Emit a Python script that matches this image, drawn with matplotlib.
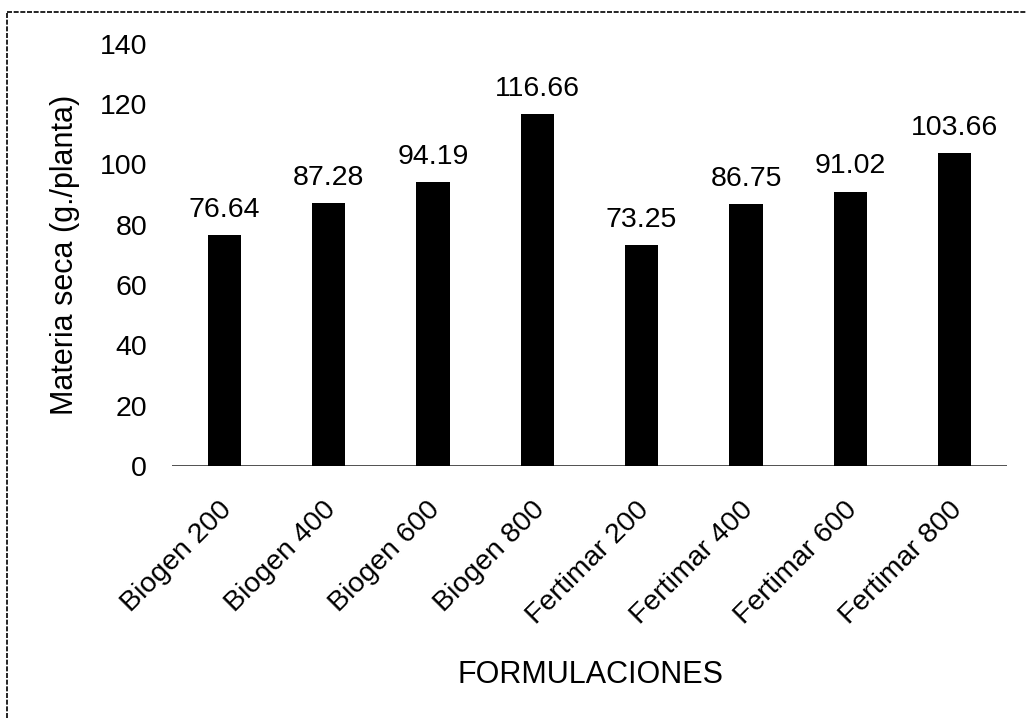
import matplotlib
matplotlib.use("Agg")
import matplotlib.pyplot as plt
from matplotlib.lines import Line2D
from matplotlib.transforms import ScaledTranslation

plt.rcParams['font.family'] = ['Liberation Sans', 'DejaVu Sans']

categories = ["Biogen 200", "Biogen 400", "Biogen 600", "Biogen 800",
              "Fertimar 200", "Fertimar 400", "Fertimar 600", "Fertimar 800"]
values = [76.64, 87.28, 94.19, 116.66, 73.25, 86.75, 91.02, 103.66]
yticks = [0, 20, 40, 60, 80, 100, 120, 140]

fig = plt.figure(figsize=(10.27, 7.18), dpi=100)
ax = fig.add_axes([0.1675, 0.351, 0.813, 0.588])

x = range(len(categories))
ax.axhline(0, color="#333333", lw=1.2, zorder=1)
bars = ax.bar(x, values, width=0.32, color="black", zorder=2)
for xi, v in zip(x, values):
    ax.text(xi, v + 6.0, f"{v:.2f}", ha="center", va="baseline", fontsize=20.5)

ax.set_xlim(-0.5, len(categories) - 0.5)
ax.set_ylim(0, 140)
ax.set_yticks(yticks)
ax.set_yticklabels([str(t) for t in yticks], fontsize=20.5)
ax.set_xticks(list(x))
ax.set_xticklabels(categories, rotation=45, ha="right", rotation_mode="anchor", fontsize=20.5)
ax.tick_params(axis="both", length=0)
ax.tick_params(axis="y", pad=18)
ax.tick_params(axis="x", pad=22)
shift = ScaledTranslation(-6 / 100, 0, fig.dpi_scale_trans)
for lbl in ax.get_xticklabels():
    lbl.set_transform(lbl.get_transform() + shift)
for s in ax.spines.values():
    s.set_visible(False)

ax.set_ylabel("Materia seca (g./planta)", fontsize=22, labelpad=14)
fig.text(0.575, 1 - 675 / 718, "FORMULACIONES", ha="center", va="center", fontsize=22)

# dashed frame on the left and top edges
fig.add_artist(Line2D([0.007, 0.007], [0.0, 0.983], transform=fig.transFigure,
                      color="black", lw=1.2, ls=(0, (3, 1))))
fig.add_artist(Line2D([0.007, 1.0], [0.983, 0.983], transform=fig.transFigure,
                      color="black", lw=1.2, ls=(0, (3, 1))))

fig.savefig("out.png", dpi=100)
